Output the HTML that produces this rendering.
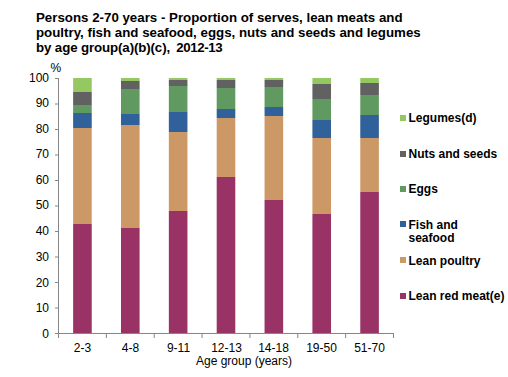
<!DOCTYPE html>
<html><head><meta charset="utf-8"><style>
html,body{margin:0;padding:0;background:#fff;}
body{width:508px;height:377px;position:relative;overflow:hidden;font-family:"Liberation Sans",sans-serif;color:#000;}
.title{position:absolute;left:36px;top:10px;font-weight:bold;font-size:13.3px;line-height:15px;white-space:nowrap;}
.yl{position:absolute;left:0;width:49px;text-align:right;font-size:12px;line-height:15px;}
.xl{position:absolute;top:341px;width:60px;text-align:center;font-size:12px;line-height:15px;}
.pct{position:absolute;left:50.5px;top:61px;font-size:12px;line-height:15px;}
.xt{position:absolute;left:144px;top:354px;width:200px;text-align:center;font-size:12px;line-height:15px;}
.lm{position:absolute;left:400px;width:6px;height:6px;}
.lt{position:absolute;left:408.5px;font-weight:bold;font-size:12px;line-height:15px;white-space:nowrap;}
svg{position:absolute;left:0;top:0;}
</style></head><body>
<svg width="508" height="377">
<rect x="73.13" y="78" width="18.6" height="14" fill="#96C862"/><rect x="73.13" y="92" width="18.6" height="13" fill="#616161"/><rect x="73.13" y="105" width="18.6" height="8" fill="#619A61"/><rect x="73.13" y="113" width="18.6" height="15" fill="#30619A"/><rect x="73.13" y="128" width="18.6" height="96" fill="#CC9966"/><rect x="73.13" y="224" width="18.6" height="109" fill="#993366"/><rect x="120.99" y="78" width="18.6" height="3" fill="#96C862"/><rect x="120.99" y="81" width="18.6" height="8" fill="#616161"/><rect x="120.99" y="89" width="18.6" height="25" fill="#619A61"/><rect x="120.99" y="114" width="18.6" height="11" fill="#30619A"/><rect x="120.99" y="125" width="18.6" height="103" fill="#CC9966"/><rect x="120.99" y="228" width="18.6" height="105" fill="#993366"/><rect x="168.84" y="78" width="18.6" height="2" fill="#96C862"/><rect x="168.84" y="80" width="18.6" height="6" fill="#616161"/><rect x="168.84" y="86" width="18.6" height="26" fill="#619A61"/><rect x="168.84" y="112" width="18.6" height="20" fill="#30619A"/><rect x="168.84" y="132" width="18.6" height="79" fill="#CC9966"/><rect x="168.84" y="211" width="18.6" height="122" fill="#993366"/><rect x="216.70" y="78" width="18.6" height="2" fill="#96C862"/><rect x="216.70" y="80" width="18.6" height="8" fill="#616161"/><rect x="216.70" y="88" width="18.6" height="21" fill="#619A61"/><rect x="216.70" y="109" width="18.6" height="9" fill="#30619A"/><rect x="216.70" y="118" width="18.6" height="59" fill="#CC9966"/><rect x="216.70" y="177" width="18.6" height="156" fill="#993366"/><rect x="264.56" y="78" width="18.6" height="2" fill="#96C862"/><rect x="264.56" y="80" width="18.6" height="7" fill="#616161"/><rect x="264.56" y="87" width="18.6" height="20" fill="#619A61"/><rect x="264.56" y="107" width="18.6" height="9" fill="#30619A"/><rect x="264.56" y="116" width="18.6" height="84" fill="#CC9966"/><rect x="264.56" y="200" width="18.6" height="133" fill="#993366"/><rect x="312.41" y="78" width="18.6" height="6" fill="#96C862"/><rect x="312.41" y="84" width="18.6" height="15" fill="#616161"/><rect x="312.41" y="99" width="18.6" height="21" fill="#619A61"/><rect x="312.41" y="120" width="18.6" height="18" fill="#30619A"/><rect x="312.41" y="138" width="18.6" height="76" fill="#CC9966"/><rect x="312.41" y="214" width="18.6" height="119" fill="#993366"/><rect x="360.27" y="78" width="18.6" height="5" fill="#96C862"/><rect x="360.27" y="83" width="18.6" height="12" fill="#616161"/><rect x="360.27" y="95" width="18.6" height="20" fill="#619A61"/><rect x="360.27" y="115" width="18.6" height="23" fill="#30619A"/><rect x="360.27" y="138" width="18.6" height="54" fill="#CC9966"/><rect x="360.27" y="192" width="18.6" height="141" fill="#993366"/>
<rect x="58" y="78" width="1" height="260" fill="#868686" shape-rendering="crispEdges"/><rect x="55" y="78.0" width="3" height="1" fill="#868686" shape-rendering="geometricPrecision"/><rect x="55" y="103.5" width="3" height="1" fill="#868686" shape-rendering="geometricPrecision"/><rect x="55" y="129.0" width="3" height="1" fill="#868686" shape-rendering="geometricPrecision"/><rect x="55" y="154.5" width="3" height="1" fill="#868686" shape-rendering="geometricPrecision"/><rect x="55" y="180.0" width="3" height="1" fill="#868686" shape-rendering="geometricPrecision"/><rect x="55" y="205.5" width="3" height="1" fill="#868686" shape-rendering="geometricPrecision"/><rect x="55" y="231.0" width="3" height="1" fill="#868686" shape-rendering="geometricPrecision"/><rect x="55" y="256.5" width="3" height="1" fill="#868686" shape-rendering="geometricPrecision"/><rect x="55" y="282.0" width="3" height="1" fill="#868686" shape-rendering="geometricPrecision"/><rect x="55" y="307.5" width="3" height="1" fill="#868686" shape-rendering="geometricPrecision"/><rect x="55" y="333.0" width="3" height="1" fill="#868686" shape-rendering="geometricPrecision"/><rect x="58" y="333" width="336" height="1" fill="#868686" shape-rendering="crispEdges"/><rect x="58.00" y="333" width="1" height="5" fill="#868686" shape-rendering="geometricPrecision"/><rect x="105.86" y="333" width="1" height="5" fill="#868686" shape-rendering="geometricPrecision"/><rect x="153.71" y="333" width="1" height="5" fill="#868686" shape-rendering="geometricPrecision"/><rect x="201.57" y="333" width="1" height="5" fill="#868686" shape-rendering="geometricPrecision"/><rect x="249.43" y="333" width="1" height="5" fill="#868686" shape-rendering="geometricPrecision"/><rect x="297.29" y="333" width="1" height="5" fill="#868686" shape-rendering="geometricPrecision"/><rect x="345.14" y="333" width="1" height="5" fill="#868686" shape-rendering="geometricPrecision"/><rect x="393.00" y="333" width="1" height="5" fill="#868686" shape-rendering="geometricPrecision"/>
</svg>
<div class="title">Persons 2-70 years - Proportion of serves, lean meats and<br>poultry, fish and seafood, eggs, nuts and seeds and legumes<br><span style="letter-spacing:-0.12px">by age group(a)(b)(c),</span><span style="letter-spacing:-0.42px;padding-left:3px"> 2012-13</span></div>
<div class="pct">%</div>
<div class="yl" style="top:70.5px">100</div><div class="yl" style="top:96.0px">90</div><div class="yl" style="top:121.5px">80</div><div class="yl" style="top:147.0px">70</div><div class="yl" style="top:172.5px">60</div><div class="yl" style="top:198.0px">50</div><div class="yl" style="top:223.5px">40</div><div class="yl" style="top:250.0px">30</div><div class="yl" style="top:275.5px">20</div><div class="yl" style="top:301.0px">10</div><div class="yl" style="top:326.5px">0</div>
<div class="xl" style="left:52.5px">2-3</div><div class="xl" style="left:100.5px">4-8</div><div class="xl" style="left:148.5px">9-11</div><div class="xl" style="left:196.5px">12-13</div><div class="xl" style="left:243.5px">14-18</div><div class="xl" style="left:291.5px">19-50</div><div class="xl" style="left:339.5px">51-70</div>
<div class="xt">Age group (years)</div>
<div class="lm" style="top:115px;background:#96C862"></div><div class="lt" style="top:111px;">Legumes(d)</div><div class="lm" style="top:151px;background:#616161"></div><div class="lt" style="top:147px;">Nuts and seeds</div><div class="lm" style="top:186px;background:#619A61"></div><div class="lt" style="top:182px;">Eggs</div><div class="lm" style="top:221px;background:#30619A"></div><div class="lt" style="top:218.7px;line-height:13.5px;">Fish and<br>seafood</div><div class="lm" style="top:257px;background:#CC9966"></div><div class="lt" style="top:253.6px;">Lean poultry</div><div class="lm" style="top:293px;background:#993366"></div><div class="lt" style="top:289px;">Lean red meat(e)</div>
</body></html>
